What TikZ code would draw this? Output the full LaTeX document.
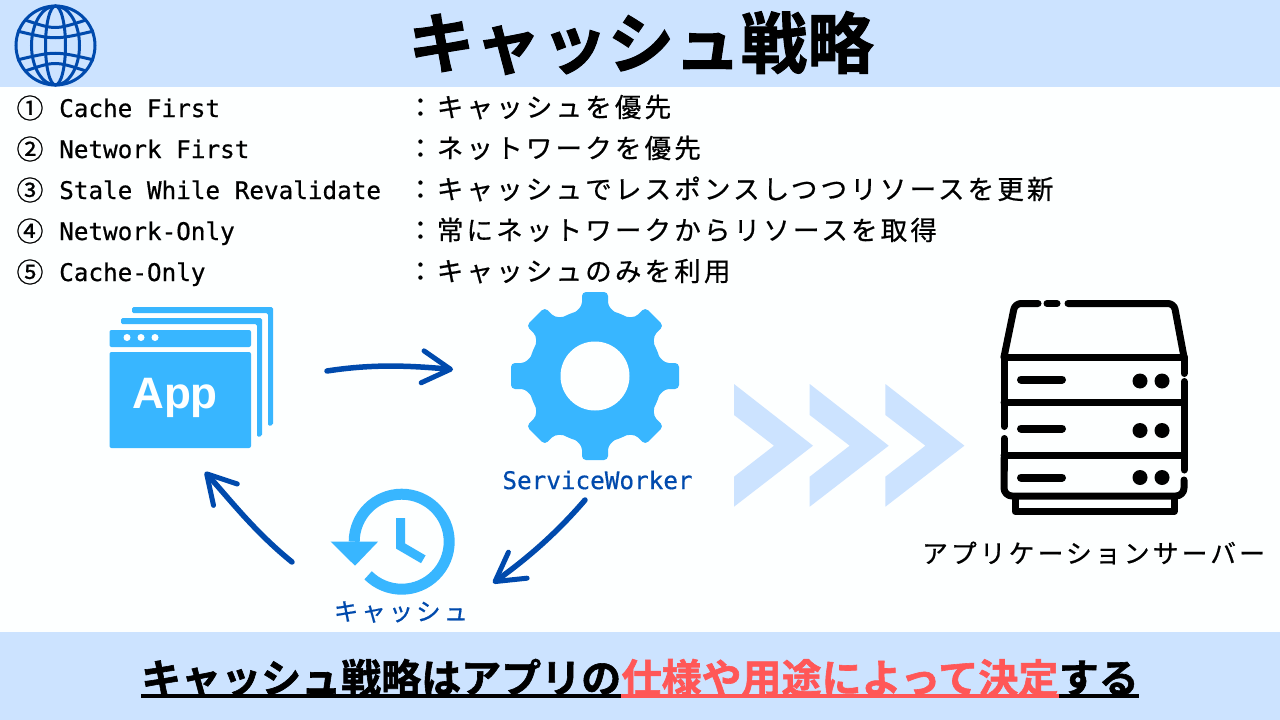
\documentclass[tikz,border=0pt]{standalone}
\usepackage{fontspec}
\usepackage{tikz}
\usetikzlibrary{arrows.meta,positioning}
\setmonofont[FakeBold=0.6]{DejaVu Sans Mono}
\setsansfont{Liberation Sans}
\newfontfamily\jpfont[LetterSpace=12,FakeBold=0.6]{Noto Sans CJK JP}
\newfontfamily\jpplain[FakeBold=0.8]{Noto Sans CJK JP}
\newfontfamily\jpheavy[FakeBold=1.5]{Noto Sans CJK JP Bold}
\definecolor{bandblue}{HTML}{CCE3FF}
\definecolor{iconblue}{HTML}{38B6FF}
\definecolor{inkblue}{HTML}{004AAD}
\definecolor{notered}{HTML}{FF5757}
\definecolor{paper}{HTML}{FDFFFF}
\tikzset{
  handarrow/.style={inkblue,line width=5.5pt,line cap=round,
    -{Straight Barb[length=28pt,width=32pt,line width=5pt,round]}},
  rowlabel/.style={anchor=west,inner sep=0pt,text height=23pt,text depth=5pt,font=\ttfamily\fontsize{24.3}{28}\selectfont},
  rowtext/.style={anchor=west,inner sep=0pt,text height=22pt,text depth=4pt,font=\jpfont\fontsize{26.5}{30}\selectfont},
  banner/.style={inner sep=0pt,anchor=base west,font=\jpheavy\fontsize{40}{46}\selectfont},
  server/.style={line width=7pt,line cap=round,line join=round,rounded corners=6pt},
  globe/.style={inkblue,line width=3pt}
}
\begin{document}
\begin{tikzpicture}[x=1pt,y=1pt,yscale=-1]
\useasboundingbox (0,0) rectangle (1280,720);
\fill[paper] (0,0) rectangle (1280,720);
\fill[bandblue] (0,0) rectangle (1280,87);
\fill[bandblue] (0,632) rectangle (1280,720);

\draw[globe] (55.5,45.5) circle (39.5);
\draw[globe] (55.5,45.5) ellipse (24 and 39.5);
\draw[globe] (55.5,45.5) ellipse (10 and 39.5);
\draw[globe] (25,20) .. controls (55,30) .. (86,20);
\draw[globe] (17,31) .. controls (55,40) .. (94,31);
\draw[globe] (17,60) .. controls (55,51) .. (94,60);
\draw[globe] (25,71) .. controls (55,61) .. (86,71);

\node[inner sep=0pt,font=\jpheavy\fontsize{66.5}{70}\selectfont] (title) at (641,43) {キャッシュ戦略};

\foreach \i/\y/\num/\name/\desc in {
  1/108/①/Cache First/：キャッシュを優先,
  2/149/②/Network First/：ネットワークを優先,
  3/190/③/Stale While Revalidate/：キャッシュでレスポンスしつつリソースを更新,
  4/231/④/Network-Only/：常にネットワークからリソースを取得,
  5/272/⑤/Cache-Only/：キャッシュのみを利用}{
  \node[inner sep=0pt,font=\jpplain\fontsize{27}{30}\selectfont] (num\i) at (30,\y) {\num};
  \node[rowlabel] (label\i) at (59,\y) {\name};
  \node[rowtext] (desc\i) at (407,\y) {\desc};
}

\fill[iconblue,rounded corners=1.5pt] (132,313) -- (132,307) -- (273,307) -- (273,425) -- (268,426) -- (268,313) -- cycle;
\fill[iconblue,rounded corners=1.5pt] (121,324) -- (121,318) -- (262,318) -- (262,436) -- (257,437) -- (257,324) -- cycle;
\fill[iconblue,rounded corners=2pt] (109.5,347) -- (109.5,330) -- (251,330) -- (251,347) -- cycle;
\fill[iconblue,rounded corners=2pt] (109.5,352) -- (251,352) -- (251,448) -- (109.5,448) -- cycle;
\foreach \x in {127,141,155}
  \fill[paper] (\x,337.5) circle (3.5);
\node[inner sep=0pt,text=paper,font=\sffamily\bfseries\fontsize{44}{50}\selectfont] (app) at (175,398) {App};

\begin{scope}[shift={(595,376)}]
\foreach \a in {0,45,...,315}
  \fill[iconblue,rotate=\a,rounded corners=4pt] (-13,-84) -- (13,-84) -- (13,-70) -- (24,-60) -- (-24,-60) -- (-13,-70) -- cycle;
\fill[iconblue] (0,0) circle (67);
\fill[paper] (0,0) circle (34.5);
\end{scope}
\node[inner sep=0pt,text=inkblue,font=\ttfamily\fontsize{24.3}{28}\selectfont] (worker) at (597.5,480) {ServiceWorker};

\draw[iconblue,line width=11pt] (354.2,541.7) arc (180:495:47.5);
\fill[iconblue] (330.7,541.7) -- (378,541.7) -- (355,565.7) -- cycle;
\draw[iconblue,line width=9pt,line join=miter] (400.5,518) -- (400.5,546) -- (423.3,559.3);
\node[inner sep=0pt,text=inkblue,font=\jpfont\fontsize{24.5}{28}\selectfont] (cache) at (401,612) {キャッシュ};

\coordinate (appout) at (327,371);
\coordinate (gearin) at (453,369.5);
\coordinate (gearout) at (585,500);
\coordinate (cachein) at (493,583);
\coordinate (cacheout) at (292,562);
\coordinate (appin) at (205,472);
\draw[handarrow] (appout) .. controls +(45,-7) and +(-45,-4) .. (gearin);
\draw[handarrow] (gearout) .. controls +(-30,35) and +(32,-23) .. (cachein);
\draw[handarrow] (cacheout) .. controls +(-37,-30) and +(27,30) .. (appin);

\foreach \x in {0,75.7,151.4}
  \fill[bandblue,xshift=\x] (734,384) -- (813,445.7) -- (734,506.7) -- (734,476.7) -- (774,445.7) -- (734,415) -- cycle;

\draw[server] (1038,303.5) -- (1015,303.5) -- (1004,357);
\draw[server] (1047,303.5) -- (1057,303.5);
\draw[server] (1068,303.5) -- (1174,303.5) -- (1184,357);
\draw[server] (1004,357) -- (1184,357);
\draw[server] (1004,402.5) -- (1184,402.5);
\draw[server] (1004,455) -- (1184,455);
\draw[server,rounded corners=0pt] (1004,357) -- (1004,426.5);
\draw[server,rounded corners=0pt] (1004,438.5) -- (1004,470);
\draw[server,rounded corners=0pt] (1184,357) -- (1184,373.5);
\draw[server,rounded corners=0pt] (1184,381.5) -- (1184,470);
\draw[server,rounded corners=8pt] (1004,458) -- (1004,496) -- (1184,496) -- (1184,480);
\draw[line width=7pt,line join=round] (1015,496) -- (1015,511.5) -- (1174,511.5) -- (1174,496);
\foreach \y/\b in {381/379.5,430.5/428.5,477.5/477.5}{
  \draw[line width=8pt,line cap=round] (1021,\b) -- (1062,\b);
  \fill (1140,\y) circle (7.5);
  \fill (1162,\y) circle (7.5);
}
\node[inner sep=0pt,font=\jpfont\fontsize{25.8}{28}\selectfont] (appserver) at (1093.5,553) {アプリケーションサーバー};

\node[banner] (bannera) at (141,693) {キャッシュ戦略はアプリの};
\node[banner,text=notered,right=0pt of bannera.base east,anchor=base west] (bannerb) {仕様や用途によって決定};
\node[banner,right=0pt of bannerb.base east,anchor=base west] (bannerc) {する};
\draw[line width=3.5pt] (141,696) -- (bannerb.base west |- 0,696);
\draw[notered,line width=3.5pt] (bannerb.base west |- 0,696) -- (bannerb.base east |- 0,696);
\draw[line width=3.5pt] (bannerb.base east |- 0,696) -- (bannerc.base east |- 0,696);
\end{tikzpicture}
\end{document}
